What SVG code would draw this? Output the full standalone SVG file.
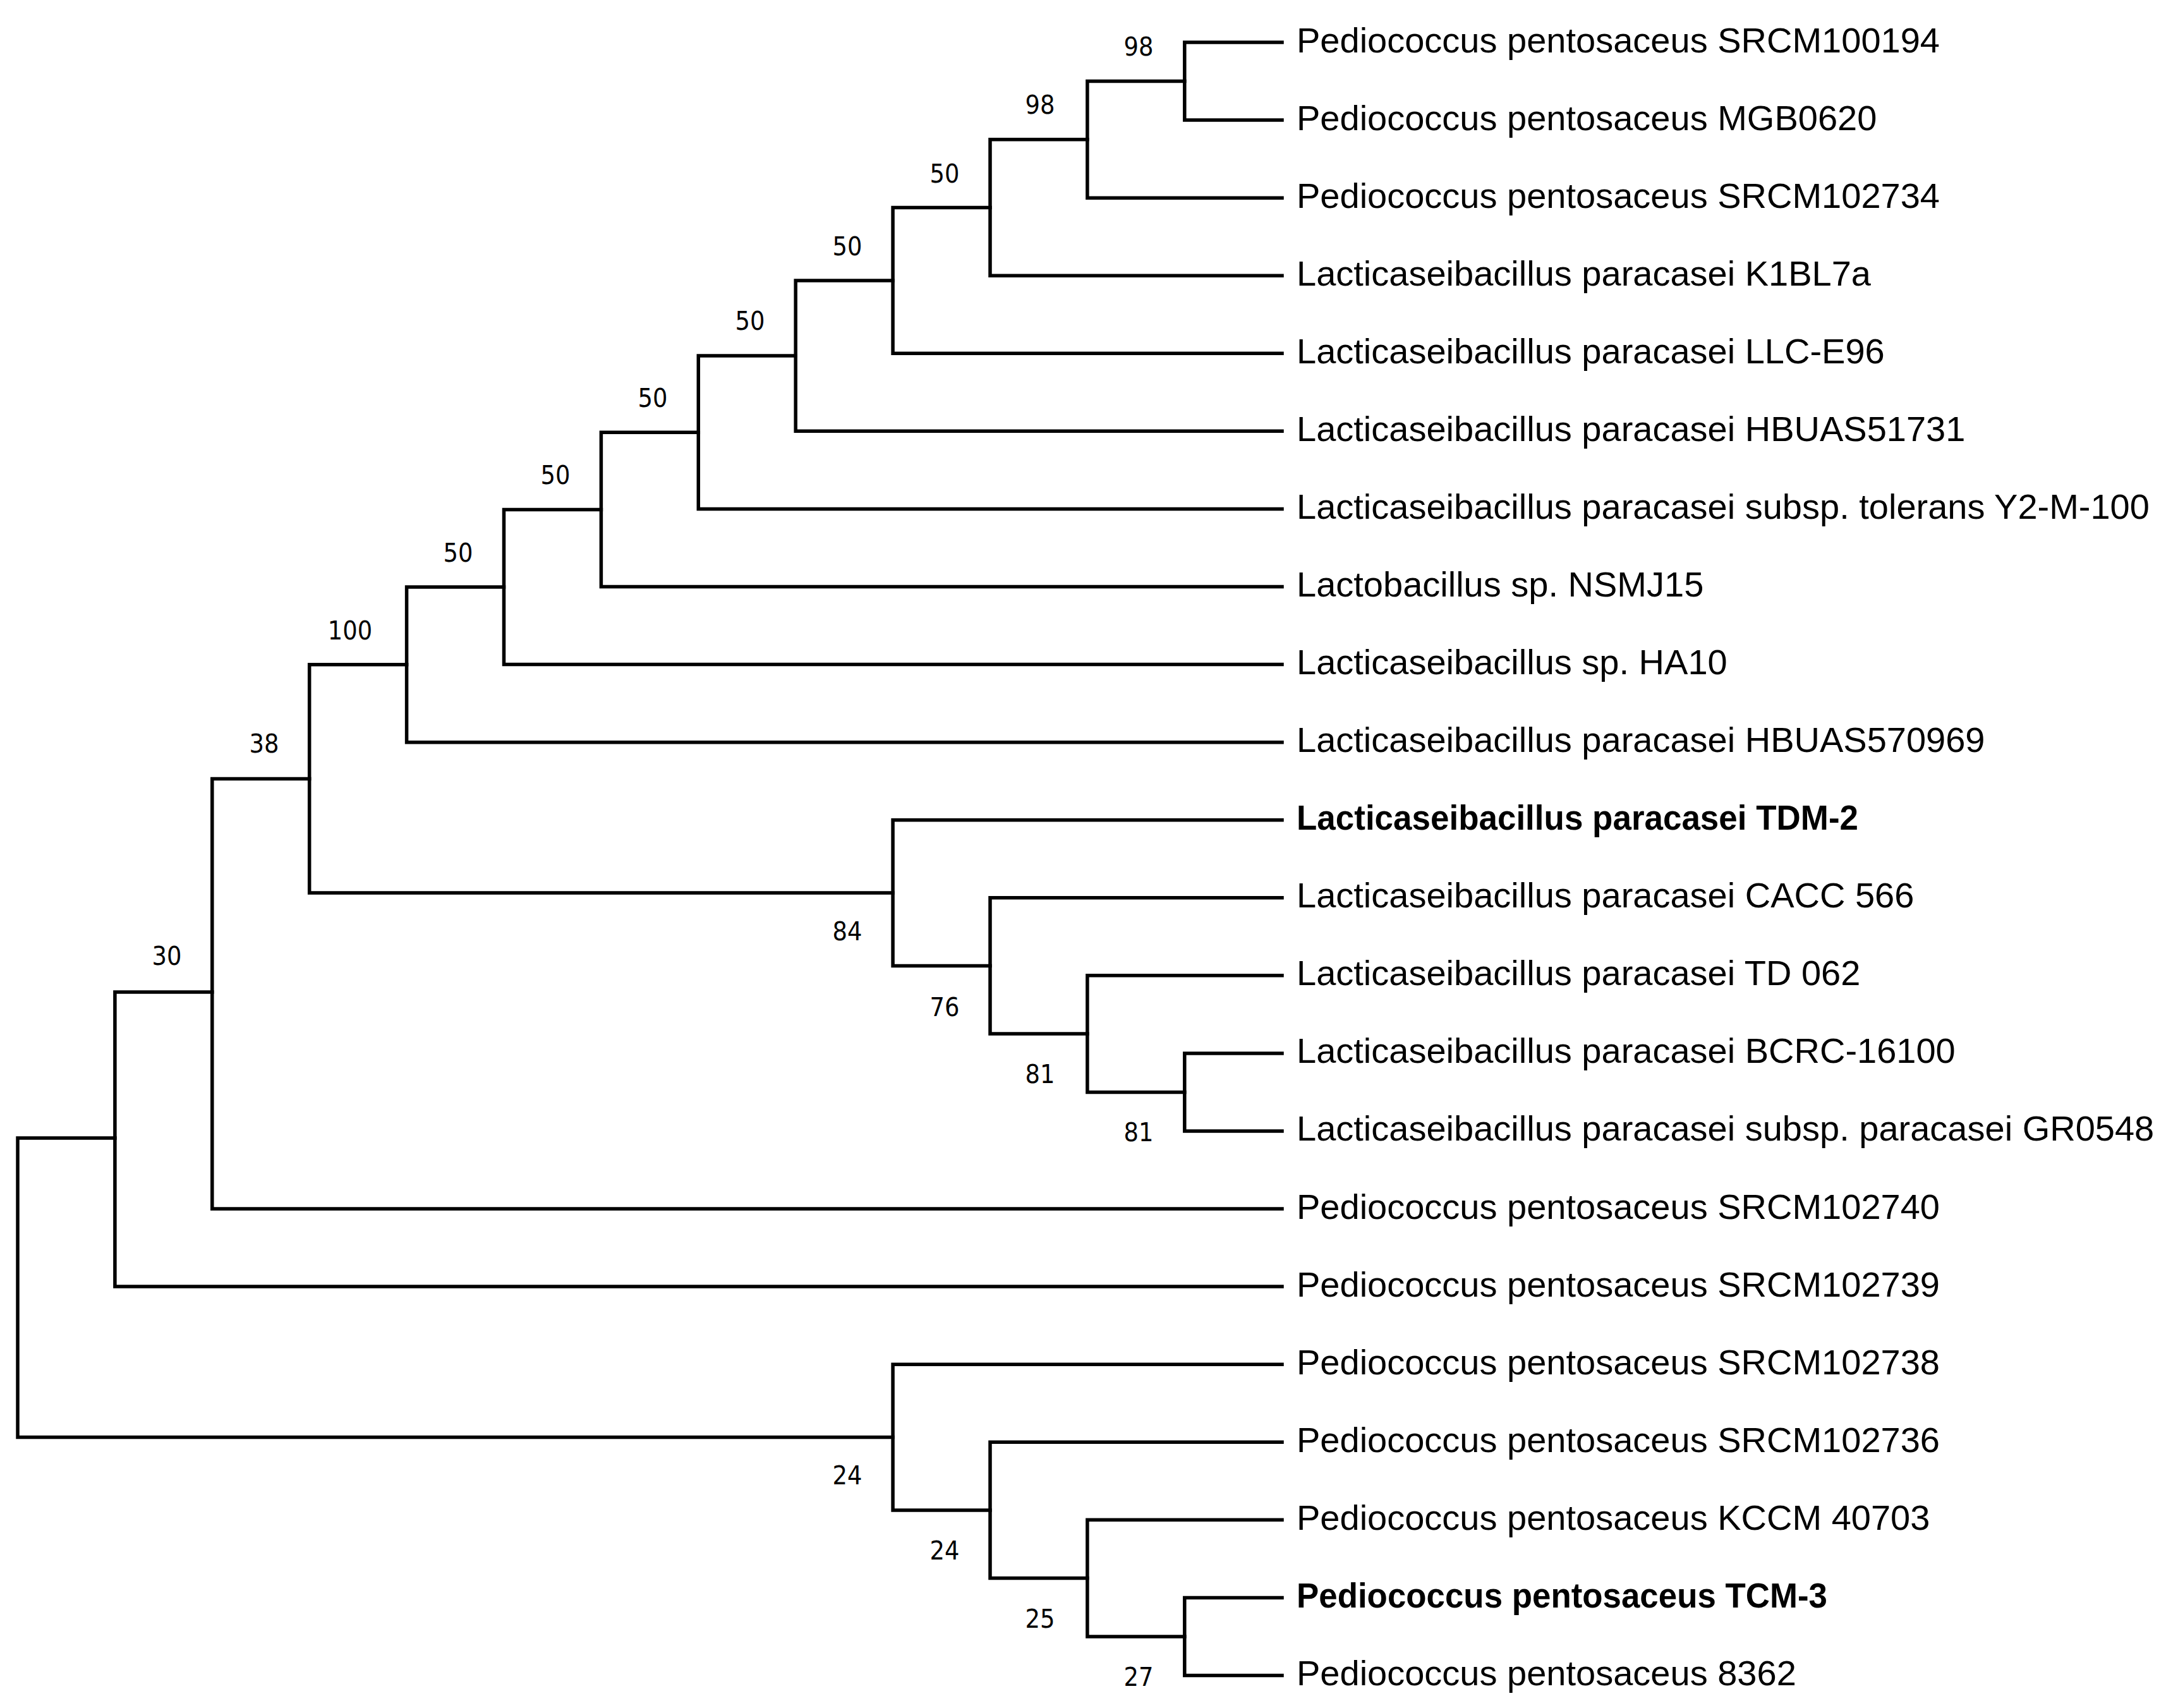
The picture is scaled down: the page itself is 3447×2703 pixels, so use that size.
<svg xmlns="http://www.w3.org/2000/svg" width="3447" height="2703" viewBox="0 0 3447 2703">
<style>
.br{fill:none;stroke:#000;stroke-width:5.5;stroke-linejoin:miter;stroke-linecap:square}
.lb{font-family:"Liberation Sans",Arial,sans-serif;font-size:56px;fill:#000}
.bd{font-weight:bold}
.bs{font-family:"DejaVu Sans Condensed","Liberation Sans",sans-serif;font-size:41px;fill:#000;text-anchor:middle}
</style>
<rect width="3447" height="2703" fill="#fff"/>
<g id="connectors">
<path class="br" d="M2029 67H1874.8V190.07H2029"/>
<path class="br" d="M1874.8 128.5H1720.9V313.14H2029"/>
<path class="br" d="M1720.9 220.8H1567V436.21H2029"/>
<path class="br" d="M1567 328.5H1413.1V559.28H2029"/>
<path class="br" d="M1413.1 443.9H1259.2V682.35H2029"/>
<path class="br" d="M1259.2 563.1H1105.3V805.42H2029"/>
<path class="br" d="M1105.3 684.3H951.4V928.49H2029"/>
<path class="br" d="M951.4 806.4H797.5V1051.56H2029"/>
<path class="br" d="M797.5 929H643.6V1174.63H2029"/>
<path class="br" d="M2029 1666.91H1874.8V1789.98H2029"/>
<path class="br" d="M2029 1543.84H1720.9V1728.4H1874.8"/>
<path class="br" d="M2029 1420.77H1567V1636.1H1720.9"/>
<path class="br" d="M2029 1297.7H1413.1V1528.5H1567"/>
<path class="br" d="M643.6 1051.8H489.7V1413.1H1413.1"/>
<path class="br" d="M489.7 1232.4H335.8V1913.05H2029"/>
<path class="br" d="M335.8 1570H181.9V2036.12H2029"/>
<path class="br" d="M2029 2528.4H1874.8V2651.47H2029"/>
<path class="br" d="M2029 2405.33H1720.9V2589.9H1874.8"/>
<path class="br" d="M2029 2282.26H1567V2497.6H1720.9"/>
<path class="br" d="M2029 2159.19H1413.1V2390H1567"/>
<path class="br" d="M181.9 1801H28V2274.6H1413.1"/>
</g>
<g id="leaves">
<g id="leaf0"><text class="lb" x="2052" y="83">Pediococcus pentosaceus SRCM100194</text></g>
<g id="leaf1"><text class="lb" x="2052" y="206">Pediococcus pentosaceus MGB0620</text></g>
<g id="leaf2"><text class="lb" x="2052" y="329">Pediococcus pentosaceus SRCM102734</text></g>
<g id="leaf3"><text class="lb" x="2052" y="452">Lacticaseibacillus paracasei K1BL7a</text></g>
<g id="leaf4"><text class="lb" x="2052" y="575">Lacticaseibacillus paracasei LLC-E96</text></g>
<g id="leaf5"><text class="lb" x="2052" y="698">Lacticaseibacillus paracasei HBUAS51731</text></g>
<g id="leaf6"><text class="lb" x="2052" y="821">Lacticaseibacillus paracasei subsp. tolerans Y2-M-100</text></g>
<g id="leaf7"><text class="lb" x="2052" y="944">Lactobacillus sp. NSMJ15</text></g>
<g id="leaf8"><text class="lb" x="2052" y="1067">Lacticaseibacillus sp. HA10</text></g>
<g id="leaf9"><text class="lb" x="2052" y="1190">Lacticaseibacillus paracasei HBUAS570969</text></g>
<g id="leaf10"><text class="lb bd" x="2052" y="1313" textLength="889" lengthAdjust="spacingAndGlyphs">Lacticaseibacillus paracasei TDM-2</text></g>
<g id="leaf11"><text class="lb" x="2052" y="1436">Lacticaseibacillus paracasei CACC 566</text></g>
<g id="leaf12"><text class="lb" x="2052" y="1559">Lacticaseibacillus paracasei TD 062</text></g>
<g id="leaf13"><text class="lb" x="2052" y="1682">Lacticaseibacillus paracasei BCRC-16100</text></g>
<g id="leaf14"><text class="lb" x="2052" y="1805">Lacticaseibacillus paracasei subsp. paracasei GR0548</text></g>
<g id="leaf15"><text class="lb" x="2052" y="1929">Pediococcus pentosaceus SRCM102740</text></g>
<g id="leaf16"><text class="lb" x="2052" y="2052">Pediococcus pentosaceus SRCM102739</text></g>
<g id="leaf17"><text class="lb" x="2052" y="2175">Pediococcus pentosaceus SRCM102738</text></g>
<g id="leaf18"><text class="lb" x="2052" y="2298">Pediococcus pentosaceus SRCM102736</text></g>
<g id="leaf19"><text class="lb" x="2052" y="2421">Pediococcus pentosaceus KCCM 40703</text></g>
<g id="leaf20"><text class="lb bd" x="2052" y="2544" textLength="840" lengthAdjust="spacingAndGlyphs">Pediococcus pentosaceus TCM-3</text></g>
<g id="leaf21"><text class="lb" x="2052" y="2667">Pediococcus pentosaceus 8362</text></g>
</g>
<g id="bootstrap">
<g id="n98a"><text class="bs" x="1802" y="88">98</text></g>
<g id="n98b"><text class="bs" x="1646" y="180">98</text></g>
<g id="n50a"><text class="bs" x="1495" y="289">50</text></g>
<g id="n50b"><text class="bs" x="1341" y="404">50</text></g>
<g id="n50c"><text class="bs" x="1187" y="522">50</text></g>
<g id="n50d"><text class="bs" x="1033" y="644">50</text></g>
<g id="n50e"><text class="bs" x="879" y="766">50</text></g>
<g id="n50f"><text class="bs" x="725" y="889">50</text></g>
<g id="n100"><text class="bs" x="554" y="1012">100</text></g>
<g id="n38"><text class="bs" x="418" y="1191">38</text></g>
<g id="n30"><text class="bs" x="264" y="1527">30</text></g>
<g id="n84"><text class="bs" x="1341" y="1488">84</text></g>
<g id="n76"><text class="bs" x="1495" y="1608">76</text></g>
<g id="n81a"><text class="bs" x="1646" y="1714">81</text></g>
<g id="n81b"><text class="bs" x="1802" y="1806">81</text></g>
<g id="n24a"><text class="bs" x="1341" y="2349">24</text></g>
<g id="n24b"><text class="bs" x="1495" y="2468">24</text></g>
<g id="n25"><text class="bs" x="1646" y="2576">25</text></g>
<g id="n27"><text class="bs" x="1802" y="2668">27</text></g>
</g>
</svg>
